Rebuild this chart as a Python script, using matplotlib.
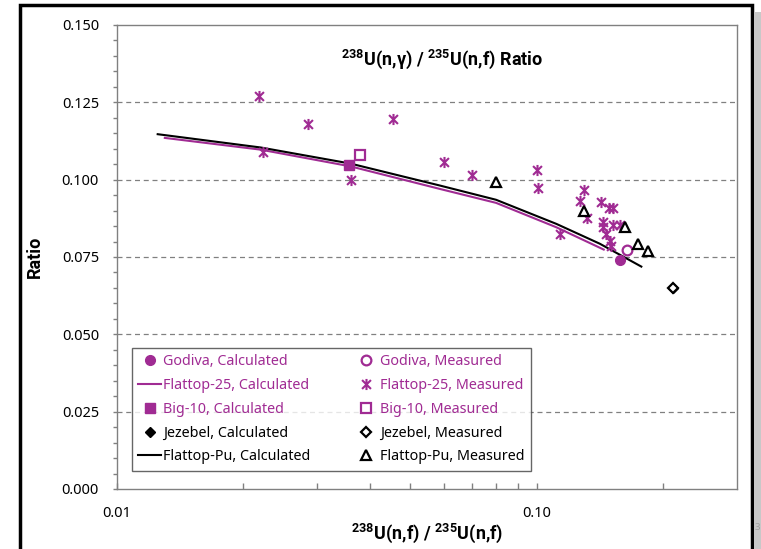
import matplotlib
matplotlib.use("Agg")
import matplotlib.pyplot as plt
from matplotlib.path import Path
from matplotlib.patches import Rectangle
from matplotlib.ticker import FixedLocator, FuncFormatter, MultipleLocator

plt.rcParams['font.family'] = ['Noto Sans', 'DejaVu Sans']
plt.rcParams['mathtext.fontset'] = 'custom'
plt.rcParams['mathtext.bf'] = 'Roboto:bold'
plt.rcParams['mathtext.rm'] = 'Roboto:bold'

PURPLE = '#A02B93'
NARROW = ['Roboto', 'DejaVu Sans']

# calculated curves
f25_calc_x = [0.0130, 0.0220, 0.0360, 0.0588, 0.0800, 0.1114, 0.1444]
f25_calc_y = [0.1135, 0.1097, 0.1043, 0.0970, 0.0925, 0.0846, 0.0774]
fpu_calc_x = [0.0125, 0.0220, 0.0360, 0.0588, 0.0800, 0.1114, 0.1413, 0.1775]
fpu_calc_y = [0.1147, 0.1104, 0.1052, 0.0981, 0.0935, 0.0857, 0.0793, 0.0719]

# single points
godiva_calc = (0.1576, 0.0741)
godiva_meas = (0.1641, 0.0773)
big10_calc = (0.0357, 0.1047)
big10_meas = (0.0380, 0.1081)
jezebel_calc = (0.2113, 0.0649)
jezebel_meas = (0.2113, 0.0649)

# Flattop-25 measured
f25_meas_x = [0.02175, 0.0223, 0.02855, 0.0361, 0.0455, 0.0601, 0.0703, 0.1002, 0.1007,
              0.1293, 0.1266, 0.1314, 0.1426, 0.1490, 0.1520, 0.1439, 0.1439, 0.1520,
              0.1575, 0.1465, 0.1492, 0.1506, 0.1138]
f25_meas_y = [0.1269, 0.1088, 0.1180, 0.0999, 0.1196, 0.1058, 0.1015, 0.1032, 0.0972,
              0.0968, 0.0930, 0.0876, 0.0929, 0.0909, 0.0909, 0.0862, 0.0846, 0.0852,
              0.0852, 0.0825, 0.0803, 0.0787, 0.0825]

# Flattop-Pu measured
fpu_meas_x = [0.0799, 0.1293, 0.1620, 0.1740, 0.1841]
fpu_meas_y = [0.0994, 0.0900, 0.0848, 0.0793, 0.0771]

# asterisk marker: x plus vertical bar
star = Path([(-0.8, -0.8), (0.8, 0.8), (-0.8, 0.8), (0.8, -0.8), (0, -1), (0, 1)],
            [Path.MOVETO, Path.LINETO, Path.MOVETO, Path.LINETO, Path.MOVETO, Path.LINETO])

fig = plt.figure(figsize=(7.61, 5.49), dpi=100)
ax = fig.add_axes([117/761, 60/549, 620/761, 464/549])

ax.plot(godiva_calc[0], godiva_calc[1], 'o', color=PURPLE, ms=7, ls='none',
        label='Godiva, Calculated', zorder=5)
ax.plot(f25_calc_x, f25_calc_y, '-', color=PURPLE, lw=1.5, label='Flattop-25, Calculated', zorder=3)
ax.plot(big10_calc[0], big10_calc[1], 's', color=PURPLE, ms=7, ls='none',
        label='Big-10, Calculated', zorder=5)
ax.plot(jezebel_calc[0], jezebel_calc[1], 'D', color='black', ms=5, ls='none',
        label='Jezebel, Calculated', zorder=4)
ax.plot(fpu_calc_x, fpu_calc_y, '-', color='black', lw=1.5, label='Flattop-Pu, Calculated', zorder=3)

ax.plot(godiva_meas[0], godiva_meas[1], 'o', mfc='white', mec=PURPLE, mew=1.6, ms=7, ls='none',
        label='Godiva, Measured', zorder=5)
ax.plot(f25_meas_x, f25_meas_y, marker=star, mfc='none', mec=PURPLE, mew=1.5, ms=8, ls='none',
        label='Flattop-25, Measured', zorder=4)
ax.plot(big10_meas[0], big10_meas[1], 's', mfc='white', mec=PURPLE, mew=1.6, ms=7, ls='none',
        label='Big-10, Measured', zorder=5)
ax.plot(jezebel_meas[0], jezebel_meas[1], 'D', mfc='white', mec='black', mew=1.6, ms=5, ls='none',
        label='Jezebel, Measured', zorder=5)
ax.plot(fpu_meas_x, fpu_meas_y, '^', mfc='white', mec='black', mew=1.6, ms=7, ls='none',
        label='Flattop-Pu, Measured', zorder=5)

ax.set_xscale('log')
ax.set_xlim(0.01, 0.3)
ax.set_ylim(0, 0.15)

ax.xaxis.set_major_locator(FixedLocator([0.01, 0.1]))
ax.xaxis.set_minor_locator(FixedLocator([0.02, 0.03, 0.04, 0.05, 0.06, 0.07, 0.08, 0.09, 0.2]))
ax.xaxis.set_major_formatter(FuncFormatter(lambda v, p: f'{v:.2f}'))
ax.xaxis.set_minor_formatter(FuncFormatter(lambda v, p: ''))
ax.yaxis.set_major_locator(MultipleLocator(0.025))
ax.yaxis.set_minor_locator(MultipleLocator(0.005))
ax.yaxis.set_major_formatter(FuncFormatter(lambda v, p: f'{v:.3f}'))

ax.tick_params(axis='x', which='both', direction='in', length=4, color='#808080', width=1,
               labelsize=10.5, pad=12)
ax.tick_params(axis='y', which='both', direction='out', length=3, color='#808080', width=1,
               labelsize=10.5, pad=10)

for v in [0.025, 0.05, 0.075, 0.1, 0.125]:
    ax.axhline(v, color='#808080', lw=0.9, ls=(0, (4, 3)), zorder=1)

for s in ax.spines.values():
    s.set_color('#808080')
    s.set_linewidth(1)

ax.text(0.525, 0.925, r'$^{238}$U(n,γ) / $^{235}$U(n,f) Ratio', transform=ax.transAxes,
        ha='center', va='center', fontsize=13, fontweight='bold', family=NARROW)
ax.set_xlabel(r'$^{238}$U(n,f) / $^{235}$U(n,f)', fontsize=13, fontweight='bold',
              family=NARROW, labelpad=1)
ax.set_ylabel('Ratio', fontsize=13, fontweight='bold', family=NARROW, labelpad=13)

leg = ax.legend(loc='lower left', bbox_to_anchor=(0.024, 0.039), ncol=2, fontsize=10.3,
                frameon=True, fancybox=False, edgecolor='#404040', handlelength=1.6,
                handletextpad=0.15, columnspacing=3.1, labelspacing=0.62, borderpad=0.45,
                borderaxespad=0)
leg.get_frame().set_linewidth(1)
for txt in leg.get_texts():
    name = txt.get_text()
    if 'Jezebel' in name or 'Flattop-Pu' in name:
        txt.set_color('black')
    else:
        txt.set_color(PURPLE)

# slide frame
fig.patches.append(Rectangle((20/761, -0.05), 732/761, 1.05 - 5/549, transform=fig.transFigure,
                             fill=False, edgecolor='black', lw=2.5))
fig.patches.append(Rectangle((754/761, 0), 7/761, 1 - 12/549, transform=fig.transFigure,
                             facecolor='#c8c8c8', edgecolor='none'))
fig.text(754.5/761, 1 - 527/549, '3', color='#a0a0a0', fontsize=7, ha='left', va='center')

fig.savefig('out.png', dpi=100)
